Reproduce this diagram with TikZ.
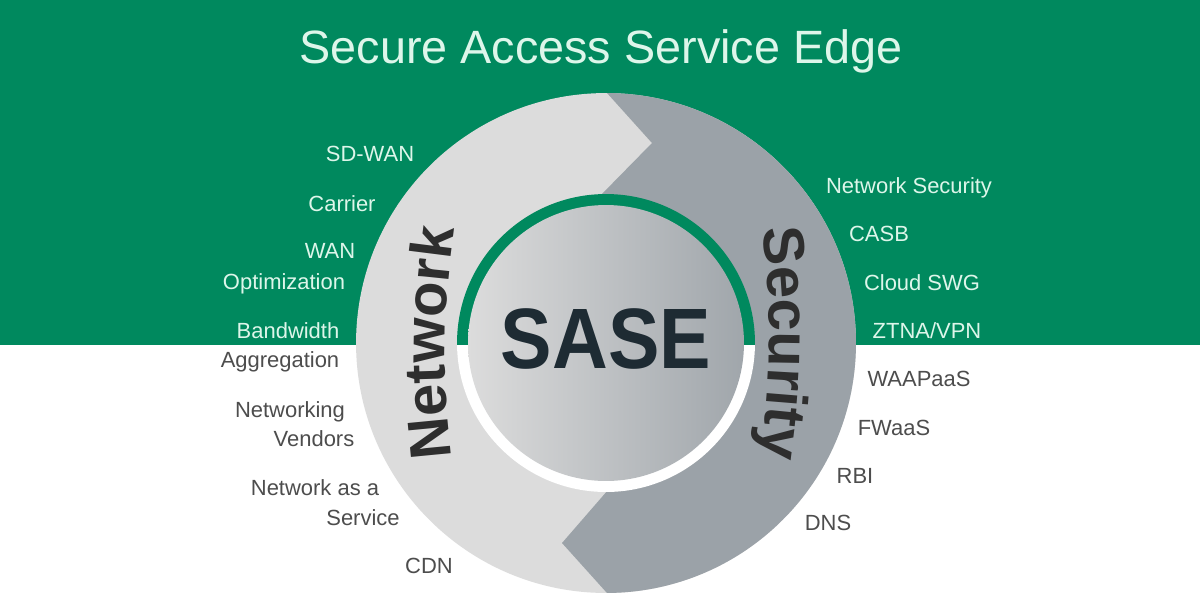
\documentclass[tikz,border=0pt]{standalone}
\usepackage{fontspec}
\setmainfont{Liberation Sans}
\usetikzlibrary{decorations.text}
\definecolor{band}{HTML}{00895E}
\definecolor{mint}{HTML}{DDF6EA}
\definecolor{lbl}{HTML}{4D4D4D}
\definecolor{lightring}{HTML}{DCDCDC}
\definecolor{darkring}{HTML}{9BA2A8}
\definecolor{discL}{HTML}{DCDCDC}
\definecolor{discR}{HTML}{A0A6AB}
\definecolor{ink}{HTML}{1E2B33}
\definecolor{wordink}{HTML}{2E2E2E}
\newcommand\ringwordfont{\fontsize{33}{33}\selectfont\bfseries}
\begin{document}
\begin{tikzpicture}[x=0.02cm,y=-0.02cm,
  lblbase/.style={font=\fontsize{12.5}{14}\selectfont,inner sep=0pt,anchor=base},
  onband/.style={lblbase,text=mint},
  onwhite/.style={lblbase,text=lbl},
  ringword/.style={decorate,decoration={text along path,text={|\ringwordfont|#1},text color=wordink,text align=center}}]
\useasboundingbox (0,0) rectangle (1200,600);
\fill[white] (0,0) rectangle (1200,600);
\fill[band] (0,0) rectangle (1200,345);
% title
\node[text=mint,font=\fontsize{26.6}{30}\selectfont,inner sep=0pt,anchor=base] (title) at (601,63) {Secure Access Service Edge};
% outer ring
\coordinate (c) at (606,343);
\fill[lightring] (c) circle[radius=5cm];
\begin{scope}
  \clip (c) circle[radius=5cm];
  \fill[darkring] (580,63) -- (652,143) -- (598,198) -- (606,343) -- (608,490) -- (562,543) -- (625,613) -- (900,613) -- (900,63) -- cycle;
\end{scope}
% gap ring showing background
\begin{scope}
  \clip (c) circle[radius=2.98cm];
  \fill[band] (400,100) rectangle (800,345);
  \fill[white] (400,345) rectangle (800,600);
\end{scope}
% inner disc
\shade[left color=discL,right color=discR] (c) circle[radius=2.76cm];
\node[font=\fontsize{48.8}{50}\selectfont\bfseries,text=ink,inner sep=0pt,anchor=base,xscale=0.9] (sase) at (606,368) {SASE};
% curved words
\path[ringword=Network] (452,458) to[bend left=7] (455,228);
\path[ringword=Security] (762,226) to[bend left=7] (760,460);
% left labels
\node[onband] (sdwan) at (370,161) {SD-WAN};
\node[onband] (carrier) at (342,211) {Carrier};
\node[onband] (wan) at (330,258) {WAN};
\node[onband] (optim) at (284,289) {Optimization};
\node[onband] (bandw) at (288,338) {Bandwidth};
\node[onwhite] (aggr) at (280,367) {Aggregation};
\node[onwhite] (netw) at (290,417) {Networking};
\node[onwhite] (vend) at (314,446) {Vendors};
\node[onwhite] (naas) at (315,495) {Network as a};
\node[onwhite] (serv) at (363,525) {Service};
\node[onwhite] (cdn) at (429,573) {CDN};
% right labels
\node[onband] (netsec) at (909,193) {Network Security};
\node[onband] (casb) at (879,241) {CASB};
\node[onband] (swg) at (922,290) {Cloud SWG};
\node[onband] (ztna) at (927,338) {ZTNA/VPN};
\node[onwhite] (waap) at (919,386) {WAAPaaS};
\node[onwhite] (fwaas) at (894,435) {FWaaS};
\node[onwhite] (rbi) at (855,483) {RBI};
\node[onwhite] (dns) at (828,530) {DNS};
\end{tikzpicture}
\end{document}
